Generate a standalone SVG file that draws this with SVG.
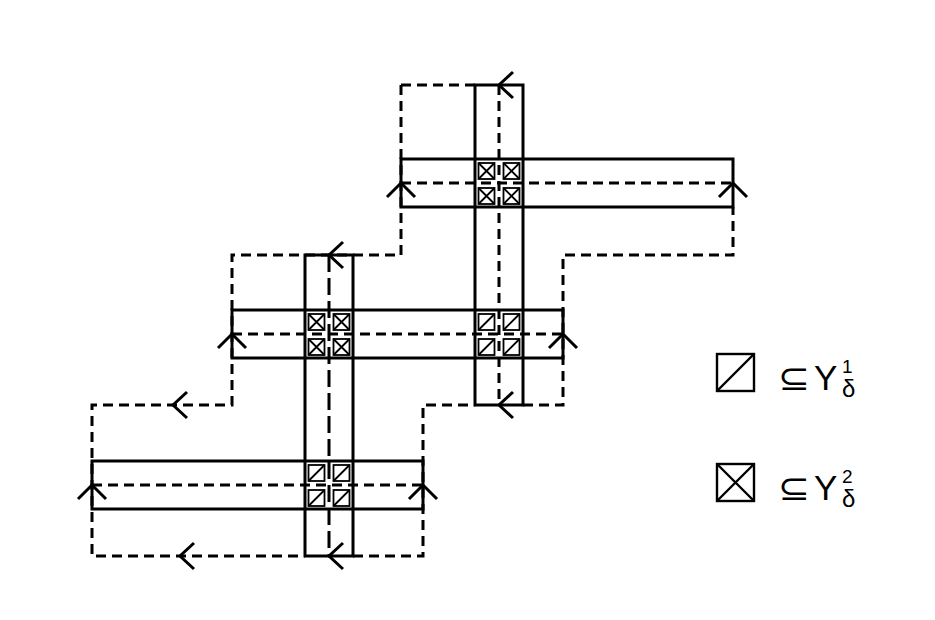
<svg xmlns="http://www.w3.org/2000/svg" xmlns:xlink="http://www.w3.org/1999/xlink" width="935" height="620" viewBox="0 0 935 620">
<style>
.bar{fill:none;stroke:#000;stroke-width:3}
.dash{fill:none;stroke:#000;stroke-width:3;stroke-dasharray:10 6}
.dashL{fill:none;stroke:#000;stroke-width:3;stroke-dasharray:17 6}
.chev{fill:none;stroke:#000;stroke-width:3}
.sq{fill:#fff;stroke:#000;stroke-width:1.8}
.lsq{fill:#fff;stroke:#000;stroke-width:2.4}
.t{font-family:"Liberation Sans",Arial,sans-serif;fill:#000}
.sub{font-family:"DejaVu Sans","Liberation Sans",sans-serif;fill:#000}
</style>
<defs>
<path id="chL" d="M14,-13 L0,0 L14,13"/>
<path id="chU" d="M-14,14 L0,0 L14,14"/>
<g id="sqX"><rect class="sq" x="0" y="0" width="16" height="16"/><path class="sq" d="M0,0 L16,16 M16,0 L0,16"/></g>
<g id="sqD"><rect class="sq" x="0" y="0" width="16" height="16"/><path class="sq" d="M0,16 L16,0"/></g>
</defs>
<rect width="935" height="620" fill="#fff"/>

<g id="connectors">
<path class="dash" d="M401,85 H475"/>
<path class="dash" d="M401,85 V255 H232 V405 H92 V556 H305"/>
<path class="dash" d="M353,556 H423 V405 H475"/>
<path class="dash" d="M523,405 H563 V255 H733 V207"/>
<path class="dash" d="M401,183 H733"/>
<path class="dash" d="M499,85 V405"/>
<path class="dash" d="M232,334 H563"/>
<path class="dashL" d="M329,255 V556"/>
<path class="dash" d="M92,485 H423"/>
<g class="chev">
<use xlink:href="#chL" x="499" y="85"/>
<use xlink:href="#chL" x="329" y="255"/>
<use xlink:href="#chL" x="499" y="405"/>
<use xlink:href="#chL" x="173" y="405"/>
<use xlink:href="#chL" x="180" y="556"/>
<use xlink:href="#chL" x="329" y="556"/>
<use xlink:href="#chU" x="401" y="183"/>
<use xlink:href="#chU" x="733" y="183"/>
<use xlink:href="#chU" x="232" y="334"/>
<use xlink:href="#chU" x="563" y="334"/>
<use xlink:href="#chU" x="92" y="485"/>
<use xlink:href="#chU" x="423" y="485"/>
</g>
</g>

<g id="bar-v-top"><rect class="bar" x="475" y="85" width="48" height="320"/></g>
<g id="bar-h-top"><rect class="bar" x="401" y="159" width="332" height="48"/></g>
<g id="bar-v-left"><rect class="bar" x="305" y="255" width="48" height="301"/></g>
<g id="bar-h-mid"><rect class="bar" x="232" y="310" width="331" height="48"/></g>
<g id="bar-h-low"><rect class="bar" x="92" y="461" width="331" height="48"/></g>

<g id="cross-top">
<use xlink:href="#sqX" x="478.5" y="163"/><use xlink:href="#sqX" x="503.5" y="163"/>
<use xlink:href="#sqX" x="478.5" y="188"/><use xlink:href="#sqX" x="503.5" y="188"/>
</g>
<g id="cross-mid-left">
<use xlink:href="#sqX" x="308.5" y="314"/><use xlink:href="#sqX" x="333.5" y="314"/>
<use xlink:href="#sqX" x="308.5" y="339"/><use xlink:href="#sqX" x="333.5" y="339"/>
</g>
<g id="cross-mid-right">
<use xlink:href="#sqD" x="478.5" y="314"/><use xlink:href="#sqD" x="503.5" y="314"/>
<use xlink:href="#sqD" x="478.5" y="339"/><use xlink:href="#sqD" x="503.5" y="339"/>
</g>
<g id="cross-low">
<use xlink:href="#sqD" x="308.5" y="465"/><use xlink:href="#sqD" x="333.5" y="465"/>
<use xlink:href="#sqD" x="308.5" y="490"/><use xlink:href="#sqD" x="333.5" y="490"/>
</g>

<g id="legend-1">
<rect class="lsq" x="717" y="354" width="37" height="37"/>
<path class="lsq" d="M717,391 L754,354"/>
<text class="sub" x="778" y="390" font-size="35" textLength="32" lengthAdjust="spacingAndGlyphs">⊆</text>
<text class="t" x="814" y="390" font-size="35">Y</text>
<text class="t" x="842" y="373" font-size="19">1</text>
<text class="t" x="842" y="397" font-size="24">δ</text>
</g>
<g id="legend-2">
<rect class="lsq" x="717" y="464" width="37" height="37"/>
<path class="lsq" d="M717,464 L754,501 M754,464 L717,501"/>
<text class="sub" x="778" y="500" font-size="35" textLength="32" lengthAdjust="spacingAndGlyphs">⊆</text>
<text class="t" x="814" y="500" font-size="35">Y</text>
<text class="t" x="842" y="483" font-size="19">2</text>
<text class="t" x="842" y="507" font-size="24">δ</text>
</g>
</svg>
